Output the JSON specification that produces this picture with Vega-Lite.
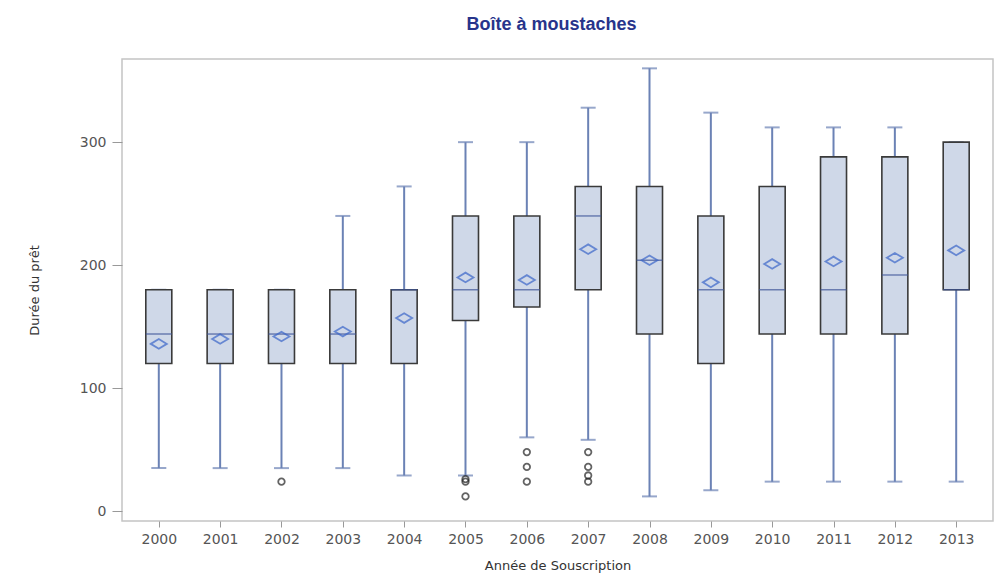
{
  "$schema": "https://vega.github.io/schema/vega-lite/v6.json",
  "width": 871,
  "height": 462,
  "autosize": {"type": "none"},
  "padding": {"left": 122, "top": 59, "right": 3, "bottom": 60},
  "background": "white",
  "title": {
    "text": "Boîte à moustaches",
    "font": "Liberation Sans",
    "fontSize": 18,
    "fontWeight": "bold",
    "color": "#27348b",
    "anchor": "middle",
    "frame": "group",
    "offset": 25,
    "dx": -6
  },
  "config": {
    "view": {"stroke": "#c4c4c4", "strokeWidth": 1.5},
    "axis": {
      "labelFont": "DejaVu Sans",
      "labelFontSize": 14,
      "labelColor": "#555555",
      "titleFont": "DejaVu Sans",
      "titleFontSize": 13,
      "titleFontWeight": "normal",
      "titleColor": "#333333",
      "tickColor": "#999999",
      "domain": false,
      "grid": false
    }
  },
  "datasets": {
    "stats": [
      {"annee": "2000", "bas": 35, "q1": 120, "mediane": 144, "q3": 180, "haut": 180, "moyenne": 136},
      {"annee": "2001", "bas": 35, "q1": 120, "mediane": 144, "q3": 180, "haut": 180, "moyenne": 140},
      {"annee": "2002", "bas": 35, "q1": 120, "mediane": 144, "q3": 180, "haut": 180, "moyenne": 142},
      {"annee": "2003", "bas": 35, "q1": 120, "mediane": 144, "q3": 180, "haut": 240, "moyenne": 146},
      {"annee": "2004", "bas": 29, "q1": 120, "mediane": 180, "q3": 180, "haut": 264, "moyenne": 157},
      {"annee": "2005", "bas": 29, "q1": 155, "mediane": 180, "q3": 240, "haut": 300, "moyenne": 190},
      {"annee": "2006", "bas": 60, "q1": 166, "mediane": 180, "q3": 240, "haut": 300, "moyenne": 188},
      {"annee": "2007", "bas": 58, "q1": 180, "mediane": 240, "q3": 264, "haut": 328, "moyenne": 213},
      {"annee": "2008", "bas": 12, "q1": 144, "mediane": 204, "q3": 264, "haut": 360, "moyenne": 204},
      {"annee": "2009", "bas": 17, "q1": 120, "mediane": 180, "q3": 240, "haut": 324, "moyenne": 186},
      {"annee": "2010", "bas": 24, "q1": 144, "mediane": 180, "q3": 264, "haut": 312, "moyenne": 201},
      {"annee": "2011", "bas": 24, "q1": 144, "mediane": 180, "q3": 288, "haut": 312, "moyenne": 203},
      {"annee": "2012", "bas": 24, "q1": 144, "mediane": 192, "q3": 288, "haut": 312, "moyenne": 206},
      {"annee": "2013", "bas": 24, "q1": 180, "mediane": 180, "q3": 300, "haut": 300, "moyenne": 212}
    ],
    "aberrants": [
      {"annee": "2002", "duree": 24},
      {"annee": "2005", "duree": 26},
      {"annee": "2005", "duree": 24},
      {"annee": "2005", "duree": 12},
      {"annee": "2006", "duree": 48},
      {"annee": "2006", "duree": 36},
      {"annee": "2006", "duree": 24},
      {"annee": "2007", "duree": 48},
      {"annee": "2007", "duree": 36},
      {"annee": "2007", "duree": 29},
      {"annee": "2007", "duree": 24}
    ]
  },
  "encoding": {
    "x": {
      "field": "annee",
      "type": "ordinal",
      "sort": null,
      "scale": {"type": "point", "padding": 0.6,
        "domain": ["2000","2001","2002","2003","2004","2005","2006","2007","2008","2009","2010","2011","2012","2013"]},
      "axis": {
        "title": "Année de Souscription",
        "labelAngle": 0,
        "tickSize": 6,
        "labelPadding": 5,
        "titlePadding": 13
      }
    }
  },
  "layer": [
    {
      "data": {"name": "stats"},
      "mark": {"type": "rule", "color": "#6b82b5", "strokeWidth": 2},
      "encoding": {
        "y": {
          "field": "bas",
          "type": "quantitative",
          "scale": {"domain": [-8, 367.6], "nice": false, "zero": false},
          "axis": {
            "title": "Durée du prêt",
            "values": [0, 100, 200, 300],
            "tickSize": 10,
            "labelPadding": 6,
            "titlePadding": 38
          }
        },
        "y2": {"field": "haut"}
      }
    },
    {
      "data": {"name": "stats"},
      "mark": {"type": "tick", "orient": "horizontal", "color": "#6b82b5", "size": 15, "thickness": 2},
      "encoding": {"y": {"field": "bas", "type": "quantitative"}}
    },
    {
      "data": {"name": "stats"},
      "mark": {"type": "tick", "orient": "horizontal", "color": "#6b82b5", "size": 15, "thickness": 2},
      "encoding": {"y": {"field": "haut", "type": "quantitative"}}
    },
    {
      "data": {"name": "stats"},
      "mark": {"type": "bar", "size": 26, "fill": "#cfd8e8", "stroke": "#3a3a3a", "strokeWidth": 1.6},
      "encoding": {
        "y": {"field": "q1", "type": "quantitative"},
        "y2": {"field": "q3"}
      }
    },
    {
      "data": {"name": "stats"},
      "mark": {"type": "tick", "orient": "horizontal", "color": "#3f5599", "size": 26, "thickness": 1.5},
      "encoding": {"y": {"field": "mediane", "type": "quantitative"}}
    },
    {
      "data": {"name": "stats"},
      "mark": {"type": "point", "shape": "M-1,0L0,-0.6L1,0L0,0.6Z", "size": 256, "filled": false, "stroke": "#3b66c9", "strokeWidth": 1.8},
      "encoding": {"y": {"field": "moyenne", "type": "quantitative"}}
    },
    {
      "data": {"name": "aberrants"},
      "mark": {"type": "point", "shape": "circle", "size": 42, "filled": false, "stroke": "#222222", "strokeWidth": 1.8},
      "encoding": {"y": {"field": "duree", "type": "quantitative"}}
    }
  ]
}
